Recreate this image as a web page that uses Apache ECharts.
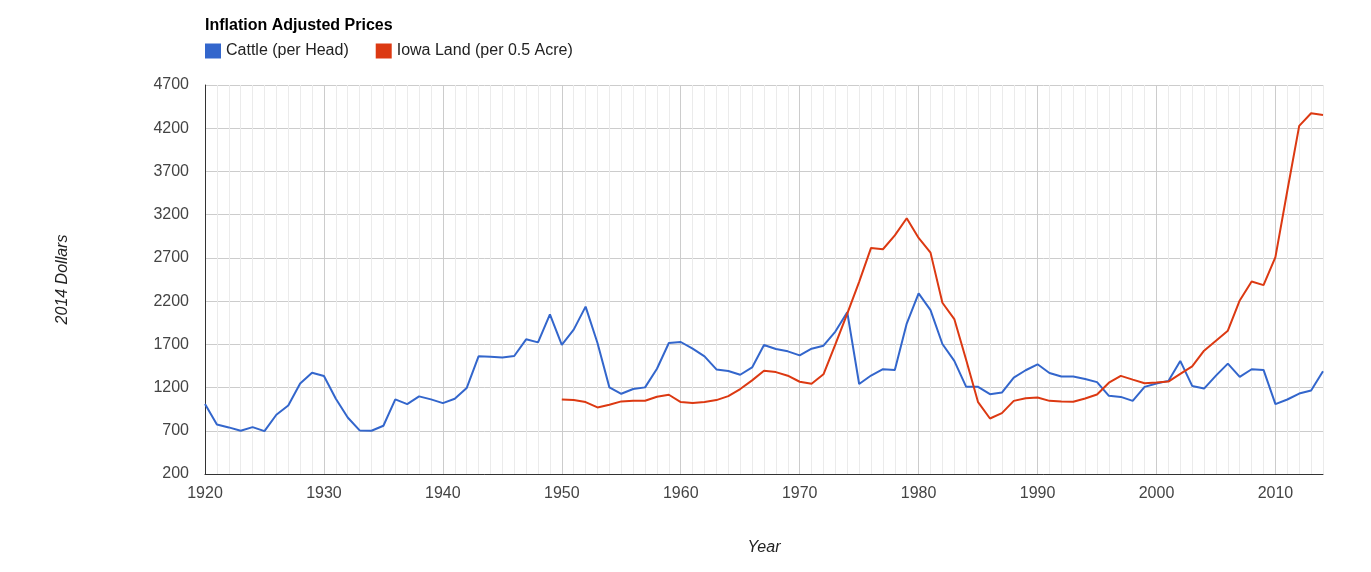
<!DOCTYPE html>
<html style="height: 100%">
  <head>
    <meta charset="UTF-8" />
    <title>Inflation Adjusted Prices</title>
    <script src="https://cdn.jsdelivr.net/npm/echarts@6/dist/echarts.min.js"></script>
  </head>
  <body style="height: 100%; margin: 0; background: #fff">
    <div id="main" style="width: 1371px; height: 572px"></div>
    <script>
      const chart = echarts.init(document.getElementById('main'))

      const years = [
        1920, 1921, 1922, 1923, 1924, 1925, 1926, 1927, 1928, 1929,
        1930, 1931, 1932, 1933, 1934, 1935, 1936, 1937, 1938, 1939,
        1940, 1941, 1942, 1943, 1944, 1945, 1946, 1947, 1948, 1949,
        1950, 1951, 1952, 1953, 1954, 1955, 1956, 1957, 1958, 1959,
        1960, 1961, 1962, 1963, 1964, 1965, 1966, 1967, 1968, 1969,
        1970, 1971, 1972, 1973, 1974, 1975, 1976, 1977, 1978, 1979,
        1980, 1981, 1982, 1983, 1984, 1985, 1986, 1987, 1988, 1989,
        1990, 1991, 1992, 1993, 1994, 1995, 1996, 1997, 1998, 1999,
        2000, 2001, 2002, 2003, 2004, 2005, 2006, 2007, 2008, 2009,
        2010, 2011, 2012, 2013, 2014,
      ]

      // cattle, 1920-2014
      const cattle = [
        1010, 773, 739, 700, 742, 696, 885, 993, 1248, 1372,
        1333, 1070, 854, 704, 700, 758, 1063, 1009, 1098, 1063,
        1020, 1070, 1194, 1561, 1557, 1549, 1565, 1758, 1723, 2047,
        1694, 1870, 2136, 1715, 1202, 1128, 1183, 1202, 1418, 1715,
        1727, 1650, 1561, 1410, 1391, 1348, 1433, 1692, 1646, 1619,
        1572, 1650, 1684, 1848, 2072, 1241, 1339, 1412, 1403, 1940,
        2290, 2096, 1704, 1508, 1208, 1208, 1123, 1142, 1315, 1400,
        1469, 1369, 1327, 1327, 1300, 1263, 1104, 1092, 1046, 1208,
        1246, 1277, 1508, 1219, 1188, 1338, 1477, 1323, 1412, 1404,
        1008, 1062, 1131, 1165, 1388,
      ]

      // iowa land, 1950-2014
      const landStart = 1950
      const land = [
        1063, 1055, 1032, 970, 1001, 1040, 1047, 1047, 1094, 1117,
        1032, 1020, 1032, 1055, 1101, 1183, 1283, 1395, 1379, 1337,
        1267, 1244, 1353, 1700, 2055, 2423, 2815, 2800, 2961, 3158,
        2931, 2761, 2181, 1992, 1519, 1031, 842, 904, 1046, 1077,
        1085, 1046, 1038, 1035, 1073, 1119, 1256, 1335, 1292, 1250,
        1258, 1269, 1358, 1446, 1627, 1742, 1858, 2208, 2427, 2385,
        2708, 3477, 4227, 4373, 4354,
      ]

      const yTicks = { min: 200, max: 4700, step: 500 }

      const landData = land.map((v, i) => [String(landStart + i), v])

      const font = 'Arial, "Liberation Sans", sans-serif'
      // every tenth year line is darker
      const vLineColors = ['#cccccc'].concat(new Array(9).fill('#ebebeb'))

      const option = {
        animation: false,
        textStyle: { fontFamily: font },
        title: {
          text: 'Inflation Adjusted Prices',
          left: 200,
          top: 13,
          textStyle: { fontSize: 16, fontWeight: 'bold', color: '#000', fontFamily: font },
        },
        legend: {
          left: 200,
          top: 38,
          itemWidth: 16,
          itemHeight: 15,
          itemGap: 27,
          icon: 'rect',
          textStyle: { fontSize: 16, color: '#222', fontFamily: font },
          data: ['Cattle (per Head)', 'Iowa Land (per 0.5 Acre)'],
        },
        grid: {
          left: 205,
          right: 48,
          top: 85,
          bottom: 98,
          containLabel: false,
        },
        xAxis: {
          type: 'category',
          data: years.map(String),
          boundaryGap: false,
          name: 'Year',
          nameLocation: 'middle',
          nameGap: 66,
          nameTextStyle: { fontStyle: 'italic', fontSize: 16, color: '#222', fontFamily: font },
          axisLine: { lineStyle: { color: '#333', width: 1 } },
          axisTick: { show: false },
          axisLabel: { interval: 9, margin: 12, fontSize: 16, color: '#444', fontFamily: font },
          splitLine: {
            show: true,
            interval: 0,
            lineStyle: { color: vLineColors, width: 1 },
          },
        },
        yAxis: {
          type: 'value',
          min: yTicks.min,
          max: yTicks.max,
          interval: yTicks.step,
          name: '2014 Dollars',
          nameLocation: 'middle',
          nameGap: 134,
          nameTextStyle: { fontStyle: 'italic', fontSize: 16, color: '#222', fontFamily: font },
          axisLine: { show: true, lineStyle: { color: '#333', width: 1 } },
          axisTick: { show: false },
          axisLabel: {
            margin: 16,
            fontSize: 16,
            color: '#444',
            fontFamily: font,
            formatter: (v) => String(v),
          },
          splitLine: { lineStyle: { color: '#cccccc', width: 1 } },
        },
        series: [
          {
            name: 'Cattle (per Head)',
            type: 'line',
            data: cattle,
            color: '#3366cc',
            symbol: 'none',
            lineStyle: { width: 2 },
          },
          {
            name: 'Iowa Land (per 0.5 Acre)',
            type: 'line',
            data: landData,
            color: '#dc3912',
            symbol: 'none',
            lineStyle: { width: 2 },
          },
        ],
      }

      chart.setOption(option)
    </script>
  </body>
</html>
